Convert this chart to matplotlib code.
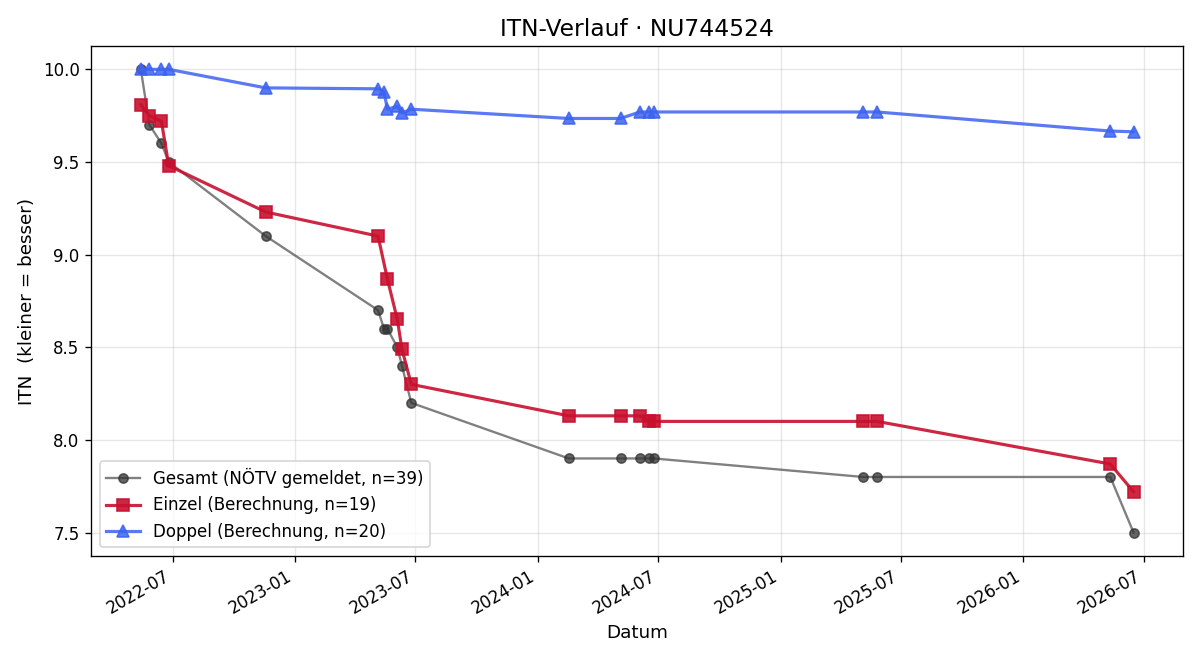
import matplotlib.pyplot as plt
import matplotlib.dates as mdates
import numpy as np

# Daten
gesamt_datum = ['2022-05-14', '2022-05-27', '2022-06-14', '2022-06-25', '2022-11-18',
                '2023-05-06', '2023-05-15', '2023-05-20', '2023-06-04', '2023-06-11',
                '2023-06-25', '2024-02-17', '2024-05-05', '2024-06-03', '2024-06-17',
                '2024-06-24', '2025-05-05', '2025-05-26', '2026-05-12', '2026-06-16']
gesamt_itn = [10.0, 9.7, 9.6, 9.5, 9.1,
              8.7, 8.6, 8.6, 8.5, 8.4,
              8.2, 7.9, 7.9, 7.9, 7.9,
              7.9, 7.8, 7.8, 7.8, 7.5]

einzel_datum = ['2022-05-14', '2022-05-27', '2022-06-14', '2022-06-25', '2022-11-18',
                '2023-05-06', '2023-05-20', '2023-06-04', '2023-06-11', '2023-06-25',
                '2024-02-17', '2024-05-05', '2024-06-03', '2024-06-17', '2024-06-24',
                '2025-05-05', '2025-05-26', '2026-05-12', '2026-06-16']
einzel_itn = [9.81, 9.75, 9.72, 9.48, 9.23,
              9.10, 8.87, 8.65, 8.49, 8.30,
              8.13, 8.13, 8.13, 8.10, 8.10,
              8.10, 8.10, 7.87, 7.72]

doppel_datum = ['2022-05-14', '2022-05-27', '2022-06-14', '2022-06-25', '2022-11-18',
                '2023-05-06', '2023-05-15', '2023-05-20', '2023-06-04', '2023-06-11',
                '2023-06-25', '2024-02-17', '2024-05-05', '2024-06-03', '2024-06-17',
                '2024-06-24', '2025-05-05', '2025-05-26', '2026-05-12', '2026-06-16']
doppel_itn = [10.0, 10.0, 10.0, 10.0, 9.90,
              9.895, 9.88, 9.785, 9.80, 9.765,
              9.785, 9.735, 9.735, 9.77, 9.77,
              9.77, 9.77, 9.77, 9.667, 9.663]

fig, ax = plt.subplots(figsize=(10, 5.5), dpi=120)

ax.plot(np.array(gesamt_datum, dtype='datetime64[D]'), gesamt_itn, color='#555555',
        alpha=0.75, marker='o', markersize=5.5, markerfacecolor='#333333',
        markeredgecolor='#333333', linewidth=1.4, label='Gesamt (NÖTV gemeldet, n=39)')
ax.plot(np.array(einzel_datum, dtype='datetime64[D]'), einzel_itn, color='#c8102e',
        alpha=0.9, marker='s', markersize=7, linewidth=1.9, label='Einzel (Berechnung, n=19)')
ax.plot(np.array(doppel_datum, dtype='datetime64[D]'), doppel_itn, color='#3d62f0',
        alpha=0.85, marker='^', markersize=7, linewidth=1.9, label='Doppel (Berechnung, n=20)')

ax.xaxis.set_major_locator(mdates.MonthLocator(bymonth=[1, 7]))
ax.xaxis.set_major_formatter(mdates.DateFormatter('%Y-%m'))
fig.autofmt_xdate()

ax.set_title('ITN-Verlauf · NU744524', fontsize=14)
ax.set_xlabel('Datum', fontsize=11)
ax.set_ylabel('ITN  (kleiner = besser)', fontsize=11)
ax.grid(True, alpha=0.3)
ax.legend(loc='lower left', fontsize=10)

fig.subplots_adjust(left=0.076, right=0.986, top=0.93, bottom=0.158)
fig.savefig('out.png')
